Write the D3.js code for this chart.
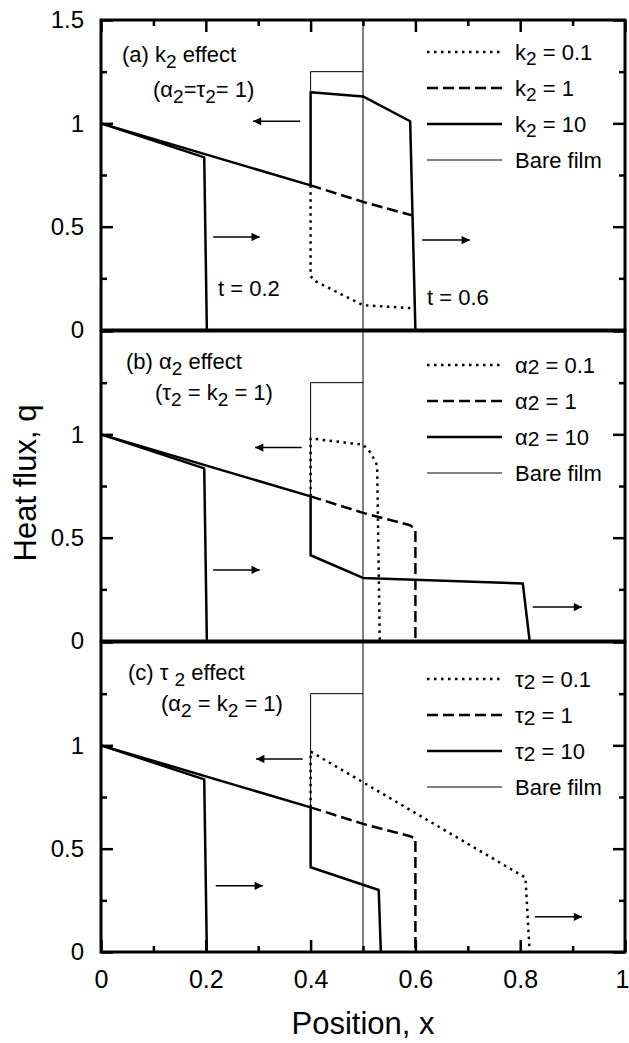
<!DOCTYPE html>
<html>
<head>
<meta charset="utf-8">
<script src="https://cdn.jsdelivr.net/npm/d3@7"></script>
<style>
  body { margin: 0; background: #fff; }
  svg { display: block; font-family: "Liberation Sans", Arial, sans-serif; }
</style>
</head>
<body>
<svg id="chart" width="629" height="1043"></svg>
<script>
// ---- data ----
const xTicksMajor = [0, 0.2, 0.4, 0.6, 0.8, 1];
const xTicksMinor = [0.1, 0.3, 0.5, 0.7, 0.9];
const yTicksMajor = [0, 0.5, 1, 1.5];
const yTicksMinor = [0.25, 0.75, 1.25];
const interfaceX = 0.5;

// profile at t = 0.2 (same in all panels)
const t02 = [[0, 1], [0.197, 0.835], [0.202, 0]];
// bare film at t = 0.6
const bareFilm = [[0.4, 0.7], [0.4, 1.25], [0.5, 1.25]];

// (a) k2 effect
const aDotted = [[0.4, 0.7], [0.4, 0.26], [0.41, 0.235], [0.5, 0.12], [0.598, 0.105]];
const aDashed = [[0.4, 0.7], [0.5, 0.62], [0.593, 0.555]];
const aSolid = [[0, 1], [0.4, 0.7], [0.4, 1.15], [0.5, 1.13], [0.59, 1.01], [0.6, 0]];
// (b) alpha2 effect
const bDotted = [[0.4, 0.7], [0.4, 0.98], [0.5, 0.95], [0.515, 0.91], [0.527, 0.85], [0.532, 0]];
const bDashed = [[0.4, 0.7], [0.5, 0.62], [0.59, 0.56], [0.6, 0.54], [0.6, 0]];
const bSolid = [[0, 1], [0.4, 0.7], [0.4, 0.415], [0.5, 0.305], [0.805, 0.278], [0.818, 0]];
// (c) tau2 effect
const cDotted = [[0.4, 0.7], [0.4, 0.97], [0.81, 0.36], [0.818, 0]];
const cDashed = [[0.4, 0.7], [0.5, 0.62], [0.59, 0.56], [0.6, 0.55], [0.6, 0]];
const cSolid = [[0, 1], [0.4, 0.7], [0.4, 0.41], [0.53, 0.3], [0.534, 0]];

// arrows: [from x, to x, y]
const aArrows = [[0.38, 0.29, 1.01], [0.214, 0.303, 0.45], [0.613, 0.704, 0.435]];
const bArrows = [[0.383, 0.294, 0.936], [0.214, 0.303, 0.344], [0.824, 0.918, 0.164]];
const cArrows = [[0.385, 0.296, 0.934], [0.219, 0.309, 0.32], [0.828, 0.918, 0.17]];

// legend labels, "main|sub|rest"
const aLegend = ['k|2| = 0.1', 'k|2| = 1', 'k|2| = 10', 'Bare film'];
const bLegend = ['α|2| = 0.1', 'α|2| = 1', 'α|2| = 10', 'Bare film'];
const cLegend = ['τ|2| = 0.1', 'τ|2| = 1', 'τ|2| = 10', 'Bare film'];

const panels = [
  {dotted: aDotted, dashed: aDashed, solid: aSolid, arrows: aArrows, legend: aLegend,
   title: ['(a) k', '2', ' effect'], sub: ['(α', '2', '=τ', '2', '= 1)'],
   yLabels: [0, 0.5, 1, 1.5], legSub: 5, titleX: 122, titleY: 42, subX: 153, subY: 77, legY: 32,
   notes: [['t = 0.2', 218, 276], ['t = 0.6', 427, 285]]},
  {dotted: bDotted, dashed: bDashed, solid: bSolid, arrows: bArrows, legend: bLegend,
   title: ['(b) α', '2', ' effect'], sub: ['(τ', '2', ' = k', '2', ' = 1)'],
   yLabels: [0, 0.5, 1], legSub: 1, titleX: 126, titleY: 38, subX: 155, subY: 69, legY: 34, notes: []},
  {dotted: cDotted, dashed: cDashed, solid: cSolid, arrows: cArrows, legend: cLegend,
   title: ['(c) τ ', '2', ' effect'], sub: ['(α', '2', ' = k', '2', ' = 1)'],
   yLabels: [0, 0.5, 1], legSub: 2, titleX: 128, titleY: 38, subX: 161, subY: 69, legY: 37, notes: []}
];

// ---- layout ----
const svg = d3.select('#chart');
const left = 101, right = 625;
const tops = [20, 331, 642];
const ph = 310;

const x = d3.scaleLinear().domain([0, 1]).range([left, right]);

svg.append('defs').append('marker')
  .attr('id', 'head')
  .attr('viewBox', '0 0 10 10')
  .attr('refX', 10).attr('refY', 5)
  .attr('markerWidth', 7).attr('markerHeight', 5.5)
  .attr('markerUnits', 'strokeWidth')
  .attr('orient', 'auto')
  .append('path').attr('d', 'M0,0L10,5L0,10z').attr('fill', '#000');

// interface line through all three panels
svg.append('line')
  .attr('x1', x(interfaceX)).attr('x2', x(interfaceX))
  .attr('y1', tops[0]).attr('y2', tops[2] + ph)
  .attr('stroke', '#000').attr('stroke-width', 1);

panels.forEach((p, i) => {
  const top = tops[i];
  const y = d3.scaleLinear().domain([0, 1.5]).range([top + ph, top]);
  const g = svg.append('g');
  const line = d3.line().x(d => x(d[0])).y(d => y(d[1]));

  // inward ticks on left & right
  const tick = (axis, vals, size, fmt) => axis.tickValues(vals).tickSize(-size).tickFormat(fmt);
  const yl = g.append('g').attr('transform', `translate(${left},0)`)
    .call(tick(d3.axisLeft(y), yTicksMajor, 12, d => p.yLabels.includes(d) ? d3.format('')(d) : '').tickPadding(17));
  g.append('g').attr('transform', `translate(${left},0)`)
    .call(tick(d3.axisLeft(y), yTicksMinor, 6, ''));
  g.append('g').attr('transform', `translate(${right},0)`)
    .call(tick(d3.axisRight(y), yTicksMajor, 12, ''));
  g.append('g').attr('transform', `translate(${right},0)`)
    .call(tick(d3.axisRight(y), yTicksMinor, 6, ''));
  if (i === 0) {
    g.append('g').attr('transform', `translate(0,${top})`)
      .call(tick(d3.axisTop(x), xTicksMajor, 12, ''));
    g.append('g').attr('transform', `translate(0,${top})`)
      .call(tick(d3.axisTop(x), xTicksMinor, 6, ''));
  }
  if (i === 2) {
    const xb = g.append('g').attr('transform', `translate(0,${top + ph})`)
      .call(tick(d3.axisBottom(x), xTicksMajor, 12, d3.format('')).tickPadding(18));
    xb.selectAll('text').attr('font-size', 25)
      .attr('dx', d => d === 1 ? -3 : 0);
    g.append('g').attr('transform', `translate(0,${top + ph})`)
      .call(tick(d3.axisBottom(x), xTicksMinor, 6, ''));
  }
  g.selectAll('.domain').remove();
  g.selectAll('.tick line').attr('stroke', '#000').attr('stroke-width', 2.5);
  g.selectAll('.tick text').attr('fill', '#000').style('font-family', 'Liberation Sans, Arial, sans-serif');
  yl.selectAll('text').attr('font-size', 24);

  // frame
  g.append('rect')
    .attr('x', left).attr('y', top).attr('width', right - left).attr('height', ph)
    .attr('fill', 'none').attr('stroke', '#000').attr('stroke-width', 3);

  // curves
  const styles = [
    {data: [bareFilm], w: 1, dash: null},
    {data: [p.dotted], w: 2.5, dash: '2.5,4.5'},
    {data: [p.dashed], w: 2.5, dash: '11,5'},
    {data: [t02, p.solid], w: 2.5, dash: null}
  ];
  styles.forEach(s => {
    s.data.forEach(d => {
      g.append('path').attr('d', line(d))
        .attr('fill', 'none').attr('stroke', '#000')
        .attr('stroke-width', s.w).attr('stroke-linejoin', 'round')
        .attr('stroke-dasharray', s.dash);
    });
  });

  // arrows
  p.arrows.forEach(a => {
    g.append('line')
      .attr('x1', x(a[0])).attr('x2', x(a[1]))
      .attr('y1', y(a[2])).attr('y2', y(a[2]))
      .attr('stroke', '#000').attr('stroke-width', 1.5)
      .attr('marker-end', 'url(#head)');
  });

  // titles
  const t1 = g.append('text').attr('x', p.titleX).attr('y', top + p.titleY)
    .attr('font-size', 22);
  t1.append('tspan').text(p.title[0]);
  t1.append('tspan').attr('font-size', 19).attr('dy', 6).text(p.title[1]);
  t1.append('tspan').attr('dy', -6).text(p.title[2]);
  const t2 = g.append('text').attr('x', p.subX).attr('y', top + p.subY).attr('font-size', 22);
  p.sub.forEach((s, k) => {
    t2.append('tspan')
      .attr('font-size', k % 2 ? 19 : 22)
      .attr('dy', k === 0 ? 0 : (k % 2 ? 6 : -6))
      .text(s);
  });

  p.notes.forEach(n => {
    g.append('text').attr('x', n[1]).attr('y', top + n[2]).attr('font-size', 22).text(n[0]);
  });

  // legend
  const legStyle = [
    {w: 2.5, dash: '2.5,4.5'}, {w: 2.5, dash: '11,5'}, {w: 2.5, dash: null}, {w: 1, dash: null}
  ];
  p.legend.forEach((lab, k) => {
    const ly = top + p.legY + k * 36;
    g.append('line').attr('x1', 427).attr('x2', 502).attr('y1', ly).attr('y2', ly)
      .attr('stroke', '#000').attr('stroke-width', legStyle[k].w)
      .attr('stroke-dasharray', legStyle[k].dash);
    const parts = lab.split('|');
    const tx = g.append('text').attr('x', 515).attr('y', ly + 8).attr('font-size', 22);
    tx.append('tspan').text(parts[0]);
    if (parts.length > 1) {
      tx.append('tspan').attr('font-size', i === 0 ? 19 : 21).attr('dy', p.legSub).text(parts[1]);
      tx.append('tspan').attr('dy', -p.legSub).text(parts[2]);
    }
  });
});

// axis titles
svg.append('text')
  .attr('x', x(0.5)).attr('y', 1034)
  .attr('text-anchor', 'middle').attr('font-size', 31)
  .text('Position, x');
svg.append('text')
  .attr('transform', 'translate(36,483) rotate(-90)')
  .attr('text-anchor', 'middle').attr('font-size', 31)
  .text('Heat flux, q');
</script>
</body>
</html>
